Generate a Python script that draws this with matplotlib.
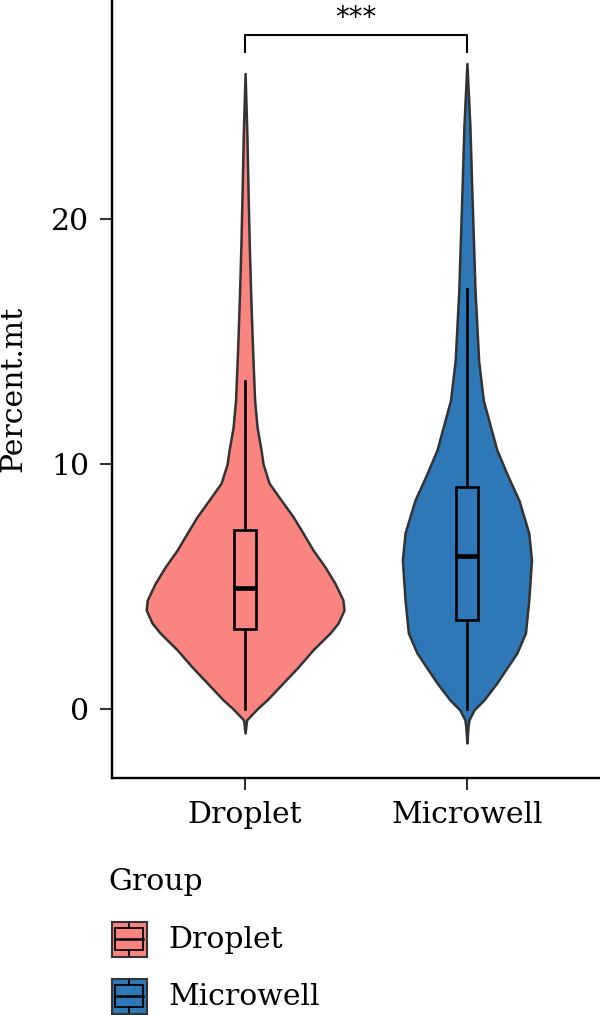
import numpy as np
import matplotlib
matplotlib.use('Agg')
import matplotlib.pyplot as plt
from matplotlib.patches import Rectangle

plt.rcParams['font.family'] = ['DejaVu Serif']

groups = ['Droplet', 'Microwell']
colors = ['#FA8580', '#2E78B7']

# violin outlines: value, half width (x units)
droplet_y = [25.94, 23.5, 21.06, 18.9, 16.98, 14.6, 12.6, 11.5, 10.57, 10.0, 9.22,
             8.53, 7.85, 7.18, 6.49, 5.8, 5.13, 4.45, 4.04, 3.5, 3.1, 2.41, 1.71,
             1.06, 0.37, 0.0, -0.45, -0.98]
droplet_w = [0, 0.008, 0.0135, 0.019, 0.025, 0.034, 0.043, 0.054, 0.072, 0.081, 0.108,
             0.162, 0.216, 0.261, 0.306, 0.360, 0.405, 0.441, 0.446, 0.419, 0.383, 0.306,
             0.239, 0.171, 0.099, 0.054, 0.007, 0]
microwell_y = [26.35, 23.8, 21.06, 17.0, 14.2, 12.6, 10.57, 9.5, 8.53, 7.18, 6.08,
               4.45, 3.1, 2.28, 1.06, 0.37, -0.04, -0.45, -0.73, -1.39]
microwell_w = [0, 0.0135, 0.0225, 0.037, 0.053, 0.074, 0.135, 0.185, 0.234, 0.279, 0.291,
               0.279, 0.264, 0.225, 0.135, 0.077, 0.032, 0.009, 0.005, 0]

# boxplot stats: lower whisker, q1, median, q3, upper whisker
box_stats = [[0.0, 3.27, 4.92, 7.31, 13.4],
             [0.0, 3.65, 6.24, 9.05, 17.14]]

sig_label = '***'
bracket_y = 27.5
bracket_leg = 26.8
star_y = 28.2

fig = plt.figure(figsize=(6, 10.15), dpi=100)
ax = fig.add_axes([112 / 600, 1 - 778 / 1015, 1 - 112 / 600, 778 / 1015])

outlines = [(droplet_y, droplet_w), (microwell_y, microwell_w)]
for i, (vy, vw) in enumerate(outlines):
    pos = i + 1
    vy = np.array(vy)
    vw = np.array(vw)
    ax.fill_betweenx(vy, pos - vw, pos + vw, facecolor=colors[i],
                     edgecolor='#333333', linewidth=1.8, zorder=2)
    lo, q1, med, q3, hi = box_stats[i]
    bw = 0.05
    ax.plot([pos, pos], [lo, q1], color='black', lw=1.9, zorder=3)
    ax.plot([pos, pos], [q3, hi], color='black', lw=1.9, zorder=3)
    ax.add_patch(Rectangle((pos - bw, q1), 2 * bw, q3 - q1, facecolor=colors[i],
                           edgecolor='black', lw=1.9, zorder=3))
    ax.plot([pos - bw, pos + bw], [med, med], color='black', lw=3.3, zorder=4,
            solid_capstyle='butt')

# significance bracket
ax.plot([1, 1, 2, 2], [bracket_leg, bracket_y, bracket_y, bracket_leg], color='black', lw=1.5,
        clip_on=False)
ax.text(1.5, star_y, sig_label, ha='center', va='center', fontsize=20, family='DejaVu Sans')

ax.set_xlim(0.4, 2.6)
ax.set_ylim(-2.82, 28.94)
ax.set_xticks([1, 2])
ax.set_xticklabels(groups)
ax.set_yticks([0, 10, 20])
ax.set_ylabel('Percent.mt', fontsize=21.5, labelpad=17)
ax.tick_params(labelsize=21.5, length=8.5, width=1.5, color='#333333', pad=8)
for s in ['top', 'right']:
    ax.spines[s].set_visible(False)
for s in ['left', 'bottom']:
    ax.spines[s].set_linewidth(1.7)
    ax.spines[s].set_color('black')

# legend drawn in pixel space
lg = fig.add_axes([0, 0, 1, 1])
lg.set_xlim(0, 600)
lg.set_ylim(1015, 0)
lg.axis('off')
lg.text(108, 882, 'Group', fontsize=21.5, va='center', ha='left')
for i, g in enumerate(groups):
    top = 921.7 + i * 57
    lg.add_patch(Rectangle((111.7, top), 35, 35, facecolor=colors[i], edgecolor='#333333', lw=1.5))
    lg.add_patch(Rectangle((115, top + 6.6), 28.3, 21.7, facecolor='none', edgecolor='black', lw=1.3))
    lg.plot([115, 143.3], [top + 17.6, top + 17.6], color='black', lw=1.8)
    lg.plot([129.3, 129.3], [top + 2, top + 6.6], color='black', lw=1.3)
    lg.plot([129.3, 129.3], [top + 28.3, top + 33], color='black', lw=1.3)
    lg.text(168, top + 18, g, fontsize=21.5, va='center', ha='left')

fig.savefig('out.png', dpi=100)
